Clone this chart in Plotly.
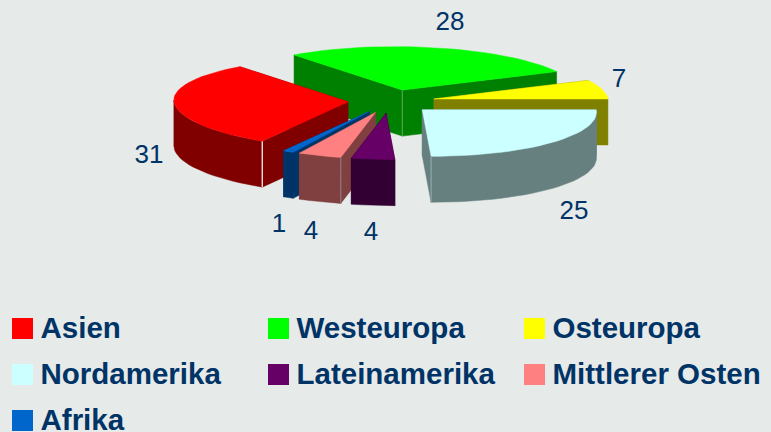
import math
import plotly.graph_objects as go

categories = ["Asien", "Westeuropa", "Osteuropa", "Nordamerika", "Lateinamerika", "Mittlerer Osten", "Afrika"]
values = [31, 28, 7, 25, 4, 4, 1]
top_colors = ["#FF0000", "#00FF00", "#FFFF00", "#CCFFFF", "#660066", "#FF8080", "#0066CC"]
side_colors = ["#800000", "#008000", "#808000", "#668080", "#330033", "#804040", "#003366"]
label_positions = [(149, 156), (450, 23), (619, 80), (574, 212), (371, 233), (311, 232), (279, 225)]
legend_cells = [(0, 0), (1, 0), (2, 0), (0, 1), (1, 1), (2, 1), (0, 2)]
draw_order = [1, 2, 3, 0, 6, 5, 4]

BG = "#E6EAE9"
INK = "#003366"
CX, CY, RX = 391.5, 101.5, 174.0
RY_BACK, RY_FRONT, EXPLODE_RY = 43.5, 46.5, 47.0
EXPLODE, DEPTH, SHEAR_BACK, SHEAR_FRONT = 0.25, 46.0, 0.17, 0.19
START = 237.6   # Asien's clockwise leading edge
WALL_FROM, WALL_TO = 177.4, 357.4   # part of the rim that faces the viewer


def slice_angles():
    out = []
    a = START
    for v in values:
        b = a - v * 3.6
        if a <= 0:
            a, b = a + 360, b + 360
        out.append((a, b))
        a = b
    return out


def offset(deg):
    t = math.radians(deg)
    s = math.sin(t)
    if s > 0:
        dy, shear = -RY_BACK * s, SHEAR_BACK
    else:
        dy, shear = -RY_FRONT * s, SHEAR_FRONT
    return RX * math.cos(t) + shear * dy, dy


def apex_of(a, b):
    mid = math.radians((a + b) / 2)
    return CX + EXPLODE * RX * math.cos(mid), CY - EXPLODE * EXPLODE_RY * math.sin(mid)


def arc_points(apex, a, b):
    n = max(3, int(abs(a - b) / 3))
    pts = []
    for i in range(n + 1):
        dx, dy = offset(a + (b - a) * i / n)
        pts.append((apex[0] + dx, apex[1] + dy))
    return pts


def down(p):
    return (p[0], p[1] + DEPTH)


def closed(points):
    return [p[0] for p in points] + [points[0][0]], [p[1] for p in points] + [points[0][1]]


def add_poly(fig, points, color, name=None):
    x, y = closed(points)
    fig.add_trace(go.Scatter(x=x, y=y, mode="lines", fill="toself", fillcolor=color,
                             line=dict(color=color, width=0.5), name=name,
                             hoverinfo="name" if name else "skip", showlegend=False))


fig = go.Figure()
angles = slice_angles()
for i in draw_order:
    a, b = angles[i]
    apex = apex_of(a, b)
    arc = arc_points(apex, a, b)
    for edge in (arc[0], arc[-1]):
        add_poly(fig, [apex, edge, down(edge), down(apex)], side_colors[i])
    hi, lo = min(a, WALL_TO), max(b, WALL_FROM)
    if hi > lo:
        rim = arc_points(apex, hi, lo)
        add_poly(fig, rim + [down(p) for p in reversed(rim)], side_colors[i])
    add_poly(fig, [apex] + arc, top_colors[i], categories[i])
    # light seam on the visible vertical corner of some slices
    seam = {0: (arc[0], "#FFFFFF"), 1: (apex, "#4CA64C"), 3: (arc[-1], "#8FA6A6"), 5: (arc[0], "#8A7A80")}.get(i)
    if seam:
        p, col = seam
        fig.add_trace(go.Scatter(x=[p[0], p[0]], y=[p[1], p[1] + DEPTH], mode="lines",
                                 line=dict(color=col, width=1.2), hoverinfo="skip", showlegend=False))

fig.add_trace(go.Scatter(x=[p[0] for p in label_positions], y=[p[1] for p in label_positions],
                         text=[str(v) for v in values], mode="text", textposition="middle center",
                         textfont=dict(family="Liberation Sans", size=26, color=INK),
                         hoverinfo="skip", showlegend=False))

COL_X = [22.5, 278.5, 534.5]
ROW_Y = [328.5, 374.5, 420.5]
TEXT_DY = 2
fig.add_trace(go.Scatter(x=[COL_X[c] for c, r in legend_cells], y=[ROW_Y[r] for c, r in legend_cells],
                         mode="markers", marker=dict(symbol="square", size=21, color=top_colors, line=dict(width=0)),
                         hoverinfo="skip", showlegend=False))
fig.add_trace(go.Scatter(x=[COL_X[c] + 18 for c, r in legend_cells], y=[ROW_Y[r] + TEXT_DY for c, r in legend_cells],
                         text=categories, mode="text", textposition="middle right",
                         textfont=dict(family="Liberation Sans", size=29.5, color=INK, weight="bold"),
                         hoverinfo="skip", showlegend=False, cliponaxis=False))

fig.update_layout(width=771, height=432, autosize=False, margin=dict(l=0, r=0, t=0, b=0),
                  paper_bgcolor=BG, plot_bgcolor=BG, showlegend=False,
                  xaxis=dict(range=[0, 771], visible=False, fixedrange=True),
                  yaxis=dict(range=[432, 0], visible=False, fixedrange=True))
fig.write_html("out.html", config={"displayModeBar": False},
               post_script="document.body.style.margin='0';document.body.style.overflow='hidden';"
                           "document.body.style.background='#E6EAE9';")
